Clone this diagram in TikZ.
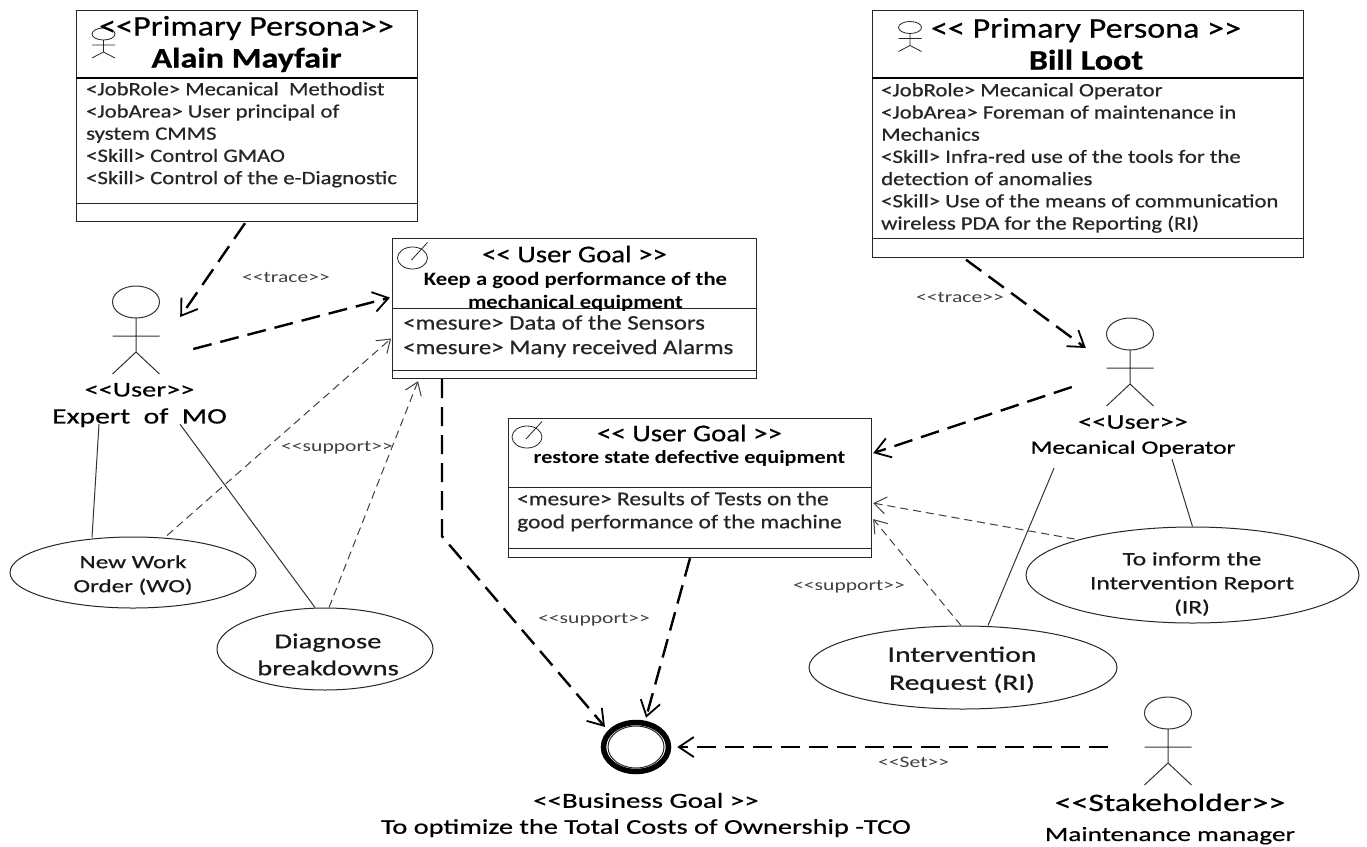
\documentclass[tikz,border=0pt]{standalone}
\usepackage{fontspec}
\setmainfont[FakeStretch=1.2]{Carlito}
\newfontfamily\semi[FakeStretch=1.2,FakeBold=0.6]{Carlito}
\newfontfamily\wide[FakeStretch=1.35]{Carlito}
\newfontfamily\semiw[FakeStretch=1.35,FakeBold=0.6]{Carlito}
\usetikzlibrary{arrows.meta,calc,shapes.geometric}
\newcommand\opn{<{}<}
\newcommand\cls{>{}>}
\newcommand\fs[2]{\fontsize{#1}{#2}\selectfont}
\tikzset{
  x=1pt,y=-1pt,
  boxn/.style={draw=black!85,line width=1.2pt,inner sep=0pt,anchor=north west},
  sep/.style={draw=black!85,line width=1pt},
  sepb/.style={draw=black,line width=1.8pt},
  title/.style={inner sep=0pt,align=center,font=\fs{28.4}{32}\semi,text=black},
  row/.style={inner sep=0pt,anchor=north west,align=left,text=black!85,font=\fs{18.9}{22.2}\semi},
  uc/.style={draw=black!85,ellipse,line width=1pt,inner sep=0pt},
  uct/.style={inner sep=0pt,align=center,text=black!90},
  heavy/.style={draw=black,line width=2.4pt,dash pattern=on 19pt off 9pt,-{Straight Barb[length=15pt,width=20pt,line width=1.8pt]}},
  light/.style={draw=black!75,line width=1pt,dash pattern=on 8pt off 5pt,-{Straight Barb[length=12pt,width=17pt,line width=1pt]}},
  assoc/.style={draw=black!80,line width=1pt},
  lbl/.style={inner sep=0pt,anchor=west,text=black!75,font=\fs{16}{18}\wide},
  figbox/.style={inner sep=0pt,minimum width=50pt,minimum height=90pt},
  mini/.style={draw=black!85,line width=.8pt},
  man/.pic={
    \draw[assoc] (0,0) ellipse[x radius=23.5pt,y radius=16pt];
    \draw[assoc] (0,16) -- (0,50) (-23.5,34) -- (23.5,34) (-23.5,72) -- (0,50) -- (23.5,72);
  },
  goalicon/.pic={
    \draw[mini] (0,0) ellipse[x radius=15pt,y radius=11pt];
    \draw[mini] (-1,2) -- (15,-15.5);
  },
  miniman/.pic={
    \draw[mini] (0,0) ellipse[x radius=11.5pt,y radius=6pt];
    \draw[mini] (0,6) -- (0,18) (-11.5,11) -- (11.5,11) (-11.5,24) -- (0,18) -- (11.5,24);
  }
}
\begin{document}
\begin{tikzpicture}
\useasboundingbox[fill=white] (0,0) rectangle (1367,846);

% persona 1
\node[boxn,minimum width=341pt,minimum height=211pt] (p1) at (76,10) {};
\draw[sepb] (76,78) -- (417,78);
\draw[sep] (76,203) -- (417,203);
\pic at (103.5,34) {miniman};
\node[title] (p1t) at (246.5,44) {\opn Primary Persona\cls\\\textbf{Alain Mayfair}};
\node[row] (p1r) at (86,82) {<JobRole> Mecanical~ Methodist\\<JobArea> User principal of\\system CMMS\\<Skill> Control GMAO\\<Skill> Control of the e-Diagnostic};

% persona 2
\node[boxn,minimum width=431pt,minimum height=247pt] (p2) at (872,9.5) {};
\draw[sepb] (872,78) -- (1303,78);
\draw[sep] (872,238) -- (1303,238);
\pic at (910,27.5) {miniman};
\node[title] (p2t) at (1086,44) {\opn{} Primary Persona \cls\\\textbf{Bill Loot}};
\node[row] (p2r) at (881,83) {<JobRole> Mecanical Operator\\<JobArea> Foreman of maintenance in\\Mechanics\\<Skill> Infra-red use of the tools for the\\detection of anomalies\\<Skill> Use of the means of communication\\wireless PDA for the Reporting (RI)};

% goal 1
\node[boxn,minimum width=364pt,minimum height=140pt] (g1) at (392,238) {};
\draw[sep] (392,308) -- (756,308);
\draw[sep] (392,370) -- (756,370);
\pic at (412.5,258) {goalicon};
\node[inner sep=0pt,font=\fs{24}{26}\semi] (g1t) at (574.5,254) {\opn{} User Goal \cls};
\node[inner sep=0pt,align=center,font=\fs{18.9}{23}\selectfont\bfseries] (g1n) at (575.5,292) {Keep a good performance of the\\mechanical equipment};
\node[row,font=\fs{20.7}{24.5}\semi] (g1r) at (403,315) {<mesure> Data of the Sensors\\<mesure> Many received Alarms};

% goal 2
\node[boxn,minimum width=363pt,minimum height=139pt] (g2) at (508,418) {};
\draw[sep] (508,487) -- (871,487);
\draw[sep] (508,548) -- (871,548);
\pic at (527,437) {goalicon};
\node[inner sep=0pt,font=\fs{24}{26}\semi] (g2t) at (689.5,433) {\opn{} User Goal \cls};
\node[inner sep=0pt,font=\fs{18.5}{20}\selectfont\bfseries] (g2n) at (689.5,458) {restore state defective equipment};
\node[row,font=\fs{19.5}{23}\semi] (g2r) at (517,491.5) {<mesure> Results of Tests on the\\good performance of the machine};

% use cases
\node[uc,minimum width=246pt,minimum height=71pt] (wo) at (133,572.5) {};
\node[uct,font=\fs{18.6}{24}\semiw] (wot) at (133,575) {New Work\\Order (WO)};
\node[uc,minimum width=216pt,minimum height=82pt] (diag) at (325,649) {};
\node[uct,font=\fs{21.2}{27}\semiw] (diagt) at (328,654.5) {Diagnose\\breakdowns};
\node[uc,minimum width=333pt,minimum height=96pt] (ir) at (1192.5,575) {};
\node[uct,font=\fs{18.9}{24}\semiw] (irt) at (1192,584) {To inform the\\Intervention Report\\(IR)};
\node[uc,minimum width=308pt,minimum height=83pt] (ri) at (963,667.5) {};
\node[uct,font=\fs{22}{28}\semiw] (rit) at (962,670) {Intervention\\Request (RI)};

% actors
\node[figbox] (a1) at (136,332) {};
\pic at (136,302) {man};
\node[inner sep=0pt,align=center,font=\fs{21}{27}\semiw] (a1t) at (139.5,405) {\opn User\cls\\\fs{22}{27}\semiw Expert~ of~ MO};
\node[figbox] (a2) at (1130,360) {};
\pic at (1130,334) {man};
\node[inner sep=0pt,align=center,font=\fs{21}{25}\semiw] (a2t) at (1133,436) {\opn User\cls\\\fs{18.9}{25}\semiw Mecanical Operator};
\node[figbox] (a3) at (1168,742) {};
\pic at (1168,713) {man};
\node[inner sep=0pt,align=center,font=\fs{25}{30}\semiw] (a3t) at (1170,819) {\opn Stakeholder\cls\\\fs{20.2}{30}\semiw Maintenance manager};

% business goal
\node[draw=black,ellipse,line width=5.5pt,minimum width=65pt,minimum height=49pt,inner sep=0pt] (bg) at (636,747) {};
\draw[black!85,line width=1pt] (bg.center) ellipse[x radius=28pt,y radius=21pt];
\node[inner sep=0pt,align=center,font=\fs{21.4}{26}\semiw] (bgt) at (646,815) {\opn Business Goal \cls\\\fs{21}{26}\semiw To optimize the Total Costs of Ownership -TCO};

% connectors
\draw[heavy] ($(p1.south west)+(169,1)$) -- ($(a1.east)+(19,-15)$);
\draw[heavy] ($(a1.east)+(32,17)$) -- ($(g1.west)+(-2,-11)$);
\draw[heavy] ($(p2.south west)+(94,2)$) -- ($(a2.west)+(-19,-12)$);
\draw[heavy] ($(a2.west)+(-33,27)$) -- ($(g2.east)+(1,-35)$);
\draw[heavy] ($(g1.south west)+(50,0)$) -- ($(g1.south west)+(50,157)$) -- ($(bg.center)+(-31,-20)$);
\draw[heavy] ($(g2.south west)+(182,0)$) -- ($(bg.north)+(10,-2)$);
\draw[heavy] ($(a3.west)+(-35,5)$) -- ($(bg.east)+(6,0)$);
\draw[light] ($(wo.north)+(34,-1)$) -- ($(g1.west)+(-1,30)$);
\draw[light] ($(diag.north)+(4,0)$) -- ($(g1.south west)+(26,2)$);
\draw[light] ($(ir.west)+(49,-36)$) -- ($(g2.east)+(1,15)$);
\draw[light] ($(ri.north)+(-2,0)$) -- ($(g2.east)+(1,31)$);
\draw[assoc] ($(a1.south)+(-37,47)$) -- ($(wo.north)+(-41,1)$);
\draw[assoc] ($(a1.south)+(44,47)$) -- ($(diag.north)+(-10,0)$);
\draw[assoc] ($(a2.south)+(-76,63)$) -- ($(ri.north)+(25,0)$);
\draw[assoc] ($(a2.south)+(42,54)$) -- (ir.north);

% labels
\node[lbl] (l1) at (242,277) {\opn trace\cls};
\node[lbl] (l2) at (281,448) {\opn support\cls};
\node[lbl] (l3) at (916,297) {\opn trace\cls};
\node[lbl] (l4) at (538,620) {\opn support\cls};
\node[lbl] (l5) at (793,587) {\opn support\cls};
\node[lbl] (l6) at (878,762) {\opn Set\cls};
\end{tikzpicture}
\end{document}
